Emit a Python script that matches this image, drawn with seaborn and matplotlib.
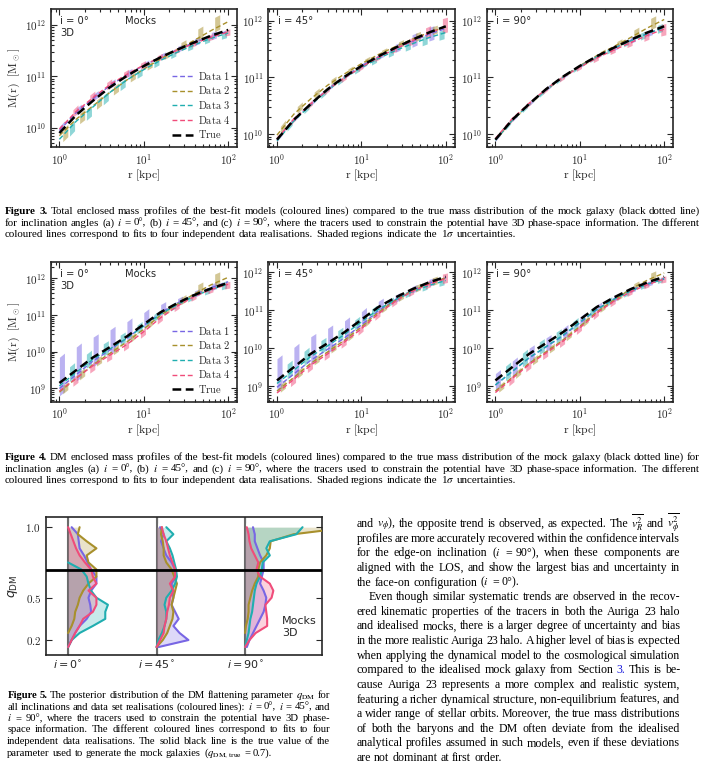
import numpy as np
import pandas as pd
import matplotlib
matplotlib.use('Agg')
import matplotlib.pyplot as plt
from matplotlib.ticker import FuncFormatter, FixedLocator
import seaborn as sns

W, H = 706, 778

# ---------------------------------------------------------------- data
# log10 r [kpc] of the read-off points
R_LOG = [0.0, 0.2, 0.4, 0.6, 0.8, 1.0, 1.2, 1.4, 1.6, 1.8, 2.0]

# true profiles, log10 M [Msun]
TOTAL_TRUE = [9.90, 10.25, 10.53, 10.79, 11.01, 11.20, 11.37, 11.52, 11.66, 11.79, 11.90]
DM_TRUE = [9.15, 9.50, 9.85, 10.13, 10.42, 10.75, 11.08, 11.33, 11.55, 11.73, 11.88]

LABELS = ['Data 1', 'Data 2', 'Data 3', 'Data 4']
COLORS = ['#7866e4', '#a8902c', '#20aeb0', '#f04c7a']

# best-fit lines: offset from the true curve (dex) at R_LOG, one row per data set
F3_I0_OFF = [[0.05, 0.05, 0.04, 0.03, 0.02, 0.01, 0.0, 0.0, 0.0, -0.02, -0.02],
             [-0.05, -0.08, -0.10, -0.10, -0.08, -0.06, -0.03, 0.0, 0.04, 0.10, 0.16],
             [-0.12, -0.12, -0.12, -0.10, -0.08, -0.07, -0.06, -0.05, -0.05, -0.05, -0.06],
             [0.08, 0.07, 0.06, 0.05, 0.03, 0.02, 0.0, -0.01, -0.02, -0.03, -0.04]]
F3_I45_OFF = [[0.0, 0.0, 0.0, 0.0, 0.0, 0.0, -0.01, -0.02, -0.03, -0.03, -0.04],
              [0.08, 0.10, 0.09, 0.07, 0.05, 0.04, 0.03, 0.02, 0.01, 0.0, -0.01],
              [-0.02, -0.02, -0.02, -0.02, -0.02, -0.03, -0.04, -0.05, -0.07, -0.09, -0.11],
              [0.02, 0.01, 0.0, -0.01, -0.02, -0.02, -0.02, -0.02, -0.02, -0.01, 0.0]]
F3_I90_OFF = [[0.0, 0.0, 0.0, 0.0, 0.0, 0.0, 0.0, -0.01, -0.01, -0.02, -0.02],
              [0.0, 0.0, 0.0, 0.0, 0.0, 0.0, 0.01, 0.02, 0.04, 0.08, 0.12],
              [-0.01, -0.01, -0.01, -0.01, -0.01, -0.01, -0.01, -0.01, -0.02, -0.02, -0.02],
              [0.02, 0.02, 0.01, 0.0, -0.01, -0.02, -0.03, -0.04, -0.05, -0.05, -0.05]]
F4_I0_OFF = [[-0.15, -0.12, -0.10, -0.08, -0.05, -0.03, -0.01, 0.0, 0.01, 0.02, 0.03],
             [-0.25, -0.22, -0.20, -0.17, -0.15, -0.13, -0.08, -0.03, 0.03, 0.10, 0.15],
             [-0.08, -0.06, -0.05, -0.05, -0.05, -0.05, -0.05, -0.04, -0.03, -0.03, -0.03],
             [-0.22, -0.22, -0.22, -0.22, -0.22, -0.20, -0.15, -0.08, -0.04, -0.03, -0.04]]
F4_I45_OFF = [[-0.18, -0.18, -0.17, -0.16, -0.15, -0.14, -0.10, -0.06, -0.03, -0.02, -0.03],
              [-0.28, -0.27, -0.25, -0.23, -0.21, -0.19, -0.14, -0.08, -0.04, -0.03, -0.03],
              [-0.08, -0.08, -0.07, -0.07, -0.06, -0.06, -0.06, -0.06, -0.07, -0.08, -0.10],
              [-0.33, -0.32, -0.30, -0.28, -0.26, -0.24, -0.18, -0.10, -0.06, -0.05, -0.05]]
F4_I90_OFF = [[-0.12, -0.12, -0.11, -0.10, -0.10, -0.09, -0.07, -0.04, -0.03, -0.04, -0.05],
              [-0.28, -0.27, -0.25, -0.23, -0.21, -0.18, -0.13, -0.07, 0.0, 0.06, 0.10],
              [-0.12, -0.11, -0.10, -0.09, -0.08, -0.07, -0.06, -0.05, -0.05, -0.05, -0.06],
              [-0.32, -0.30, -0.28, -0.26, -0.24, -0.22, -0.16, -0.10, -0.07, -0.06, -0.06]]

# 1-sigma shaded bars: extent above / below the line (dex), ten bars per data set
F3_I0_HI = [[0.08, 0.08, 0.08, 0.07, 0.07, 0.06, 0.06, 0.06, 0.07, 0.08],
            [0.06, 0.06, 0.06, 0.06, 0.05, 0.05, 0.06, 0.10, 0.18, 0.22],
            [0.05, 0.05, 0.05, 0.05, 0.05, 0.05, 0.05, 0.05, 0.05, 0.05],
            [0.10, 0.10, 0.09, 0.08, 0.07, 0.06, 0.05, 0.05, 0.06, 0.06]]
F3_I0_LO = [[0.05, 0.05, 0.05, 0.05, 0.05, 0.05, 0.05, 0.05, 0.06, 0.06],
            [0.18, 0.14, 0.12, 0.10, 0.08, 0.06, 0.05, 0.05, 0.05, 0.06],
            [0.15, 0.15, 0.13, 0.11, 0.09, 0.07, 0.06, 0.06, 0.06, 0.08],
            [0.05, 0.05, 0.05, 0.05, 0.05, 0.05, 0.05, 0.05, 0.05, 0.06]]
F3_I45_HI = [[0.03, 0.03, 0.03, 0.03, 0.03, 0.04, 0.05, 0.08, 0.12, 0.12],
             [0.08, 0.08, 0.07, 0.06, 0.05, 0.05, 0.05, 0.06, 0.08, 0.08],
             [0.03, 0.03, 0.03, 0.03, 0.03, 0.04, 0.05, 0.06, 0.06, 0.06],
             [0.05, 0.05, 0.04, 0.04, 0.04, 0.04, 0.05, 0.06, 0.12, 0.16]]
F3_I45_LO = [[0.03, 0.03, 0.03, 0.03, 0.03, 0.04, 0.04, 0.06, 0.10, 0.12],
             [0.04, 0.04, 0.04, 0.04, 0.04, 0.04, 0.04, 0.05, 0.06, 0.06],
             [0.04, 0.04, 0.04, 0.04, 0.04, 0.05, 0.06, 0.08, 0.10, 0.10],
             [0.04, 0.04, 0.04, 0.04, 0.04, 0.04, 0.05, 0.06, 0.08, 0.10]]
F3_I90_HI = [[0.03, 0.03, 0.03, 0.03, 0.03, 0.03, 0.03, 0.04, 0.05, 0.05],
             [0.02, 0.02, 0.02, 0.02, 0.02, 0.03, 0.04, 0.06, 0.10, 0.14],
             [0.03, 0.03, 0.03, 0.03, 0.03, 0.03, 0.04, 0.05, 0.06, 0.08],
             [0.04, 0.04, 0.04, 0.04, 0.04, 0.04, 0.05, 0.06, 0.08, 0.10]]
F3_I90_LO = [[0.03, 0.03, 0.03, 0.03, 0.03, 0.03, 0.03, 0.04, 0.05, 0.05],
             [0.02, 0.02, 0.02, 0.02, 0.02, 0.03, 0.03, 0.04, 0.05, 0.06],
             [0.03, 0.03, 0.03, 0.03, 0.03, 0.03, 0.04, 0.05, 0.06, 0.06],
             [0.04, 0.04, 0.04, 0.04, 0.04, 0.05, 0.05, 0.06, 0.08, 0.10]]
F4_I0_HI = [[0.85, 0.75, 0.65, 0.55, 0.45, 0.35, 0.22, 0.12, 0.10, 0.10],
            [0.10, 0.10, 0.10, 0.09, 0.08, 0.08, 0.08, 0.12, 0.20, 0.25],
            [0.30, 0.28, 0.25, 0.20, 0.16, 0.12, 0.10, 0.08, 0.08, 0.10],
            [0.08, 0.08, 0.08, 0.08, 0.08, 0.07, 0.07, 0.07, 0.07, 0.08]]
F4_I0_LO = [[0.20, 0.18, 0.15, 0.12, 0.10, 0.08, 0.07, 0.07, 0.07, 0.08],
            [0.12, 0.12, 0.10, 0.10, 0.08, 0.08, 0.07, 0.07, 0.07, 0.08],
            [0.10, 0.10, 0.09, 0.08, 0.08, 0.07, 0.07, 0.07, 0.08, 0.10],
            [0.15, 0.14, 0.13, 0.12, 0.11, 0.10, 0.09, 0.08, 0.08, 0.10]]
F4_I45_HI = [[0.75, 0.70, 0.62, 0.55, 0.45, 0.35, 0.25, 0.12, 0.10, 0.10],
             [0.10, 0.10, 0.10, 0.10, 0.09, 0.08, 0.08, 0.08, 0.10, 0.12],
             [0.30, 0.28, 0.25, 0.22, 0.18, 0.14, 0.10, 0.08, 0.08, 0.08],
             [0.08, 0.08, 0.08, 0.08, 0.08, 0.08, 0.08, 0.08, 0.10, 0.15]]
F4_I45_LO = [[0.12, 0.12, 0.11, 0.10, 0.09, 0.08, 0.07, 0.07, 0.07, 0.08],
             [0.10, 0.10, 0.10, 0.09, 0.09, 0.08, 0.07, 0.07, 0.07, 0.08],
             [0.10, 0.10, 0.09, 0.09, 0.08, 0.08, 0.07, 0.07, 0.08, 0.10],
             [0.12, 0.12, 0.11, 0.10, 0.10, 0.09, 0.08, 0.08, 0.08, 0.10]]
F4_I90_HI = [[0.30, 0.28, 0.26, 0.24, 0.20, 0.16, 0.12, 0.08, 0.06, 0.06],
             [0.08, 0.08, 0.08, 0.08, 0.08, 0.08, 0.08, 0.08, 0.10, 0.15],
             [0.28, 0.26, 0.24, 0.20, 0.16, 0.12, 0.10, 0.08, 0.06, 0.06],
             [0.08, 0.08, 0.08, 0.08, 0.08, 0.08, 0.07, 0.07, 0.07, 0.08]]
F4_I90_LO = [[0.15, 0.14, 0.13, 0.12, 0.10, 0.09, 0.08, 0.07, 0.06, 0.06],
             [0.10, 0.10, 0.10, 0.09, 0.09, 0.08, 0.07, 0.07, 0.07, 0.08],
             [0.10, 0.10, 0.09, 0.09, 0.08, 0.08, 0.07, 0.07, 0.06, 0.06],
             [0.12, 0.12, 0.11, 0.10, 0.10, 0.09, 0.08, 0.07, 0.07, 0.08]]

# Figure 5: posterior widths of q_DM at each grid value, per inclination and data set
Q_GRID = [1.00, 0.95, 0.90, 0.85, 0.80, 0.75, 0.70, 0.65, 0.60,
          0.55, 0.50, 0.45, 0.40, 0.35, 0.30, 0.25, 0.20, 0.15]
nan = np.nan
Q_I0 = [[0.04, 0.11, 0.12, 0.13, 0.18, 0.22, 0.26, 0.32, 0.32, 0.26, 0.23, 0.25, 0.26, 0.21, 0.13, 0.08, 0.04, 0.0],
        [0.13, 0.11, 0.21, 0.32, 0.21, 0.23, 0.32, 0.32, 0.23, 0.17, 0.13, 0.11, 0.08, 0.07, 0.04, 0.0, nan, nan],
        [nan, nan, nan, nan, nan, 0.0, 0.15, 0.21, 0.23, 0.26, 0.32, 0.45, 0.42, 0.42, 0.28, 0.13, 0.04, 0.0],
        [0.0, 0.03, 0.06, 0.09, 0.13, 0.19, 0.26, 0.28, 0.32, 0.23, 0.32, 0.32, 0.28, 0.17, 0.13, 0.08, 0.04, 0.0]]
Q_I45 = [[0.04, 0.08, 0.05, 0.08, 0.11, 0.17, 0.21, 0.22, 0.17, 0.18, 0.19, 0.17, 0.21, 0.25, 0.19, 0.26, 0.36, 0.02],
         [0.06, 0.05, 0.07, 0.08, 0.08, 0.11, 0.17, 0.20, 0.23, 0.21, 0.19, 0.17, 0.19, 0.18, 0.15, 0.12, 0.07, 0.0],
         [0.11, 0.19, 0.11, 0.15, 0.18, 0.20, 0.22, 0.23, 0.21, 0.17, 0.11, 0.09, 0.11, 0.11, 0.09, 0.06, 0.02, 0.0],
         [0.06, 0.08, 0.11, 0.13, 0.15, 0.18, 0.21, 0.21, 0.15, 0.19, 0.15, 0.14, 0.12, 0.11, 0.09, 0.08, 0.04, 0.0]]
Q_I90 = [[0.09, 0.11, 0.11, 0.14, 0.17, 0.21, 0.21, 0.19, 0.17, 0.21, 0.24, 0.23, 0.21, 0.17, 0.13, 0.09, 0.05, 0.02],
         [1.20, 0.55, 0.29, 0.28, 0.24, 0.17, 0.15, 0.15, 0.11, 0.08, 0.06, 0.04, 0.04, 0.03, 0.01, 0.0, nan, nan],
         [0.65, 0.58, 0.28, 0.24, 0.28, 0.20, 0.19, 0.17, 0.13, 0.11, 0.10, 0.09, 0.08, 0.06, 0.05, 0.04, 0.02, 0.0],
         [0.02, 0.04, 0.05, 0.07, 0.11, 0.15, 0.13, 0.17, 0.28, 0.32, 0.30, 0.23, 0.24, 0.25, 0.25, 0.12, 0.05, 0.0]]
Q_TRUE = 0.7
INC_LABELS = [r'$i=0^{\circ}$', r'$i=45^{\circ}$', r'$i=90^{\circ}$']

# ---------------------------------------------------------------- text
CAP3 = ["Figure 3. Total enclosed mass profiles of the best-fit models (coloured lines) compared to the true mass distribution of the mock galaxy (black dotted line)",
        "for inclination angles (a) $i$ = 0°, (b) $i$ = 45°, and (c) $i$ = 90°, where the tracers used to constrain the potential have 3D phase-space information. The different",
        "coloured lines correspond to fits to four independent data realisations. Shaded regions indicate the 1$\\sigma$ uncertainties."]
CAP4 = ["Figure 4. DM enclosed mass profiles of the best-fit models (coloured lines) compared to the true mass distribution of the mock galaxy (black dotted line) for",
        "inclination angles (a) $i$ = 0°, (b) $i$ = 45°, and (c) $i$ = 90°, where the tracers used to constrain the potential have 3D phase-space information. The different",
        "coloured lines correspond to fits to four independent data realisations. Shaded regions indicate the 1$\\sigma$ uncertainties."]
CAP5 = ["Figure 5. The posterior distribution of the DM flattening parameter $q_{\\mathrm{DM}}$ for",
        "all inclinations and data set realisations (coloured lines): $i$ = 0°, $i$ = 45°, and",
        "$i$ = 90°, where the tracers used to constrain the potential have 3D phase-",
        "space information. The different coloured lines correspond to fits to four",
        "independent data realisations. The solid black line is the true value of the",
        "parameter used to generate the mock galaxies ($q_{\\mathrm{DM,\\,true}}$ = 0.7)."]
BODY = ["and $v_\\phi$), the opposite trend is observed, as expected. The $\\overline{v_R^2}$ and $\\overline{v_\\phi^2}$",
        "profiles are more accurately recovered within the confidence intervals",
        "for the edge-on inclination ($i$ = 90°), when these components are",
        "aligned with the LOS, and show the largest bias and uncertainty in",
        "the face-on configuration ($i$ = 0°).",
        "Even though similar systematic trends are observed in the recov-",
        "ered kinematic properties of the tracers in both the Auriga 23 halo",
        "and idealised mocks, there is a larger degree of uncertainty and bias",
        "in the more realistic Auriga 23 halo. A higher level of bias is expected",
        "when applying the dynamical model to the cosmological simulation",
        "compared to the idealised mock galaxy from Section 3. This is be-",
        "cause Auriga 23 represents a more complex and realistic system,",
        "featuring a richer dynamical structure, non-equilibrium features, and",
        "a wider range of stellar orbits. Moreover, the true mass distributions",
        "of both the baryons and the DM often deviate from the idealised",
        "analytical profiles assumed in such models, even if these deviations",
        "are not dominant at first order."]

# ---------------------------------------------------------------- style
sns.set_style('ticks')
plt.rcParams['font.family'] = ['DejaVu Sans']
plt.rcParams['mathtext.fontset'] = 'cm'
plt.rcParams['axes.linewidth'] = 1.2

BAR_SHIFT = [0.0, 0.04, 0.12, 0.16]
BAR_WIDTH = 0.06

fig = plt.figure(figsize=(W / 100, H / 100), dpi=100)


def add_ax(left, top, width, height):
    return fig.add_axes([left / W, 1 - (top + height) / H, width / W, height / H])


def log_fmt(v, pos):
    return r'$\mathrm{10^{%d}}$' % int(round(np.log10(v)))


def mass_panel(ax, true, offs, his, los, ylog, inc, first):
    ax.set_xscale('log')
    ax.set_yscale('log')
    true = np.array(true)
    r = 10 ** np.array(R_LOG)
    for d in range(4):
        line = true + np.array(offs[d])
        for k in range(10):
            a = R_LOG[k] + BAR_SHIFT[d]
            xs = np.array([a, a + BAR_WIDTH])
            mid = np.interp(xs, R_LOG, line)
            ax.fill_between(10 ** xs, 10 ** (mid - los[d][k]), 10 ** (mid + his[d][k]),
                            color=COLORS[d], alpha=0.5, lw=0)
        df = pd.DataFrame({'r': r, 'M': 10 ** line})
        sns.lineplot(data=df, x='r', y='M', ax=ax, color=COLORS[d], lw=1.0,
                     ls=(0, (3.5, 2)), estimator=None, label=r'$\mathrm{Data\ %d}$' % (d + 1))
    dft = pd.DataFrame({'r': r, 'M': 10 ** true})
    sns.lineplot(data=dft, x='r', y='M', ax=ax, color='black', lw=1.8,
                 ls=(0, (3.5, 1.8)), estimator=None, label=r'$\mathrm{True}$')
    ax.set_xlim(10 ** -0.103, 10 ** 2.107)
    ax.set_ylim(10 ** ylog[0], 10 ** ylog[1])
    ax.xaxis.set_major_formatter(FuncFormatter(log_fmt))
    ax.yaxis.set_major_formatter(FuncFormatter(log_fmt))
    ax.tick_params(which='both', direction='in', top=True, right=True, labelsize=8, width=0.8)
    ax.tick_params(which='major', length=4)
    ax.tick_params(which='minor', length=2)
    ax.set_xlabel(r'$\mathrm{r\ [kpc]}$', fontsize=8.5, labelpad=1)
    ax.text(0.05, 0.915, 'i = %d°' % inc, transform=ax.transAxes, fontsize=7.2,
            va='center', ha='left')
    if first:
        ax.set_ylabel(r'$\mathrm{M(r)\ \ [M_\odot]}$', fontsize=8.5, labelpad=2)
        ax.text(0.48, 0.915, 'Mocks', transform=ax.transAxes, fontsize=7.2, va='center', ha='center')
        ax.text(0.05, 0.828, '3D', transform=ax.transAxes, fontsize=7.2, va='center', ha='left')
        ax.legend(loc='lower right', frameon=False, fontsize=7.5, handlelength=2.0,
                  labelspacing=0.25, borderaxespad=0.25, handletextpad=0.5)
    else:
        ax.set_ylabel('')
        ax.get_legend().remove()


LEFTS = [50.7, 268.3, 486.7]
PW, PH = 186.5, 137.7

fig3 = [(F3_I0_OFF, F3_I0_HI, F3_I0_LO, (9.63, 12.30), 0),
        (F3_I45_OFF, F3_I45_HI, F3_I45_LO, (9.77, 12.20), 45),
        (F3_I90_OFF, F3_I90_HI, F3_I90_LO, (9.77, 12.20), 90)]
for j, (offs, his, los, yl, inc) in enumerate(fig3):
    ax = add_ax(LEFTS[j], 9.3, PW, PH)
    mass_panel(ax, TOTAL_TRUE, offs, his, los, yl, inc, j == 0)

fig4 = [(F4_I0_OFF, F4_I0_HI, F4_I0_LO, (8.64, 12.44), 0),
        (F4_I45_OFF, F4_I45_HI, F4_I45_LO, (8.59, 12.26), 45),
        (F4_I90_OFF, F4_I90_HI, F4_I90_LO, (8.59, 12.26), 90)]
for j, (offs, his, los, yl, inc) in enumerate(fig4):
    ax = add_ax(LEFTS[j], 262.3, PW, 139.4)
    mass_panel(ax, DM_TRUE, offs, his, los, yl, inc, j == 0)

# ---------------------------------------------------------------- figure 5
ax5 = add_ax(46, 517.3, 276, 137.7)
q = np.array(Q_GRID)
for base, widths in enumerate([Q_I0, Q_I45, Q_I90]):
    ax5.axvline(base, color='#6a6a6a', lw=1.5, zorder=1)
    for d in range(4):
        w = np.array(widths[d], dtype=float)
        ax5.fill_betweenx(q, base, base + w, color=COLORS[d], alpha=0.25, lw=0, zorder=2)
        sns.lineplot(x=base + w, y=q, ax=ax5, color=COLORS[d], lw=1.5, sort=False,
                     estimator=None, zorder=3)
ax5.axhline(Q_TRUE, color='black', lw=2, zorder=5)
ax5.set_xlim(-0.25, 2.87)
ax5.set_ylim(0.094, 1.07)
ax5.xaxis.set_major_locator(FixedLocator([0, 1, 2]))
ax5.set_xticklabels(INC_LABELS)
for lab in ax5.get_xticklabels():
    lab.set_math_fontfamily('dejavusans')
ax5.yaxis.set_major_locator(FixedLocator([0.2, 0.5, 1.0]))
ax5.yaxis.set_major_formatter(FuncFormatter(lambda v, p: r'$\mathrm{%.1f}$' % v))
ax5.tick_params(which='both', direction='in', top=True, right=True, labelsize=8, width=0.8, length=4)
ax5.tick_params(axis='x', pad=3)
ax5.set_xlabel('')
ax5.set_ylabel(r'$q_{\rm DM}$', fontsize=9, math_fontfamily='dejavusans', labelpad=4)
ax5.text(0.855, 0.2, 'Mocks\n3D', transform=ax5.transAxes, fontsize=8, va='center',
         ha='left', linespacing=1.25)

# ---------------------------------------------------------------- captions and body text
renderer = fig.canvas.get_renderer()


def justify(lines, x0, x1, ys, size, ends, indents=None, blue=()):
    indents = indents or {}
    for i, (line, y) in enumerate(zip(lines, ys)):
        start = x0 + indents.get(i, 0)
        words = line.split(' ')
        arts = []
        for j, wd in enumerate(words):
            bold = line.startswith('Figure') and j < 2
            arts.append(fig.text(0, 1 - y / H, wd, fontsize=size, family='Liberation Serif',
                                 weight='bold' if bold else 'normal',
                                 color='#1a1adc' if (i, wd) in blue else 'black',
                                 va='baseline', math_fontfamily='stix'))
        widths = [a.get_window_extent(renderer).width for a in arts]
        if i in ends or len(arts) == 1:
            gap = 0.25 * size * 100 / 72
        else:
            gap = (x1 - start - sum(widths)) / (len(arts) - 1)
        x = start
        for a, wd in zip(arts, widths):
            a.set_x(x / W)
            x += wd + gap


justify(CAP3, 5, 700, [214, 225.5, 237], 7.9, {2})
justify(CAP4, 5, 700, [460, 471.5, 483], 7.9, {2})
justify(CAP5, 7.3, 330, [698, 709.5, 721, 732.5, 744, 755.5], 7.7, {5})
justify(BODY, 356.7, 680, [527 + 14.63 * k for k in range(17)], 8.6, {4, 16},
        indents={5: 11.5}, blue={(10, '3.')})

fig.savefig('out.png', dpi=100)
